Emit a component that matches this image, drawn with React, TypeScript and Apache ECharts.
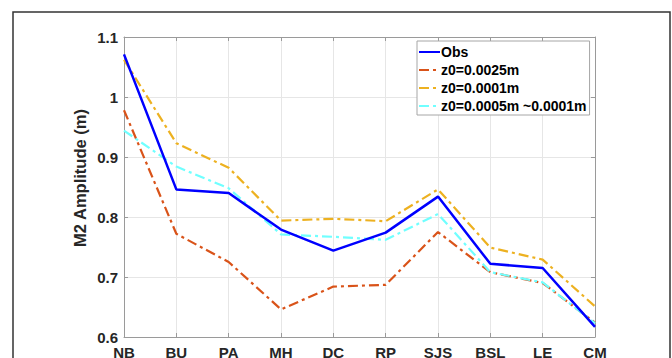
import React, { useEffect, useRef } from "react";
import * as echarts from "echarts";

// Tide gauge stations along the estuary
const stations = ["NB", "BU", "PA", "MH", "DC", "RP", "SJS", "BSL", "LE", "CM"];

// M2 amplitude (m) at each station
const obs = [1.071, 0.846, 0.84, 0.779, 0.744, 0.774, 0.834, 0.722, 0.715, 0.617];
const z0_0025 = [0.978, 0.772, 0.725, 0.646, 0.684, 0.687, 0.775, 0.708, 0.69, 0.624];
const z0_0001 = [1.062, 0.923, 0.882, 0.794, 0.797, 0.793, 0.846, 0.749, 0.729, 0.651];
const z0_0005_0001 = [0.944, 0.884, 0.848, 0.771, 0.767, 0.762, 0.805, 0.708, 0.691, 0.623];

const yMin = 0.6;
const yMax = 1.1;
const yStep = 0.1;

const FONT = "'Liberation Sans', Arial, Helvetica, sans-serif";
const DASH_DOT = [10, 4, 3, 4];

export default function App() {
  const ref = useRef<HTMLDivElement>(null);

  useEffect(() => {
    if (!ref.current) return;
    const chart = echarts.init(ref.current, null, { renderer: "svg" });

    const lineSeries = (
      name: string,
      data: number[],
      color: string,
      dashed: boolean,
      width: number
    ) => ({
      name,
      type: "line",
      data,
      symbol: "none",
      showSymbol: false,
      lineStyle: { color, width, type: dashed ? DASH_DOT : "solid" },
      itemStyle: { color },
      xAxisIndex: 0,
      yAxisIndex: 0,
    });

    const boxAxisLine = { show: true, lineStyle: { color: "#9a9a9a", width: 1 } };
    const boxAxisTick = {
      show: true,
      inside: true,
      length: 4,
      lineStyle: { color: "#9a9a9a" },
    };
    const tickLabel = {
      fontFamily: FONT,
      fontWeight: "bold",
      fontSize: 15,
      color: "#262626",
    };

    chart.setOption({
      animation: false,
      backgroundColor: "#ffffff",
      textStyle: { fontFamily: FONT },
      graphic: [
        {
          type: "rect",
          shape: { x: 13, y: 12, width: 657, height: 400 },
          style: { fill: "none", stroke: "#333333", lineWidth: 1.5 },
          silent: true,
          z: 0,
        },
        {
          type: "text",
          x: 80,
          y: 178,
          rotation: Math.PI / 2,
          style: {
            text: "M2 Amplitude (m)",
            fontFamily: FONT,
            fontWeight: "bold",
            fontSize: 16.5,
            fill: "#262626",
            align: "center",
            verticalAlign: "middle",
          },
          silent: true,
        },
      ],
      grid: {
        left: 124,
        top: 37,
        right: 77,
        bottom: 21,
        containLabel: false,
        outerBoundsMode: "none",
        show: false,
      },
      legend: {
        orient: "vertical",
        left: 417,
        top: 41,
        padding: [4, 3, 2, 1],
        itemWidth: 21,
        itemHeight: 14,
        itemGap: 4,
        backgroundColor: "#ffffff",
        borderColor: "#a6a6a6",
        borderWidth: 1,
        borderRadius: 0,
        itemStyle: { opacity: 0 },
        textStyle: {
          fontFamily: FONT,
          fontWeight: "bold",
          fontSize: 14,
          color: "#000000",
          padding: [0, 0, 0, -4],
        },
        data: ["Obs", "z0=0.0025m", "z0=0.0001m", "z0=0.0005m ~0.0001m"],
      },
      xAxis: [
        {
          type: "category",
          data: stations,
          boundaryGap: false,
          position: "bottom",
          axisLine: boxAxisLine,
          axisTick: boxAxisTick,
          axisLabel: { ...tickLabel, margin: 8 },
          splitLine: { show: true, lineStyle: { color: "#e6e6e6", width: 1 } },
        },
        {
          type: "category",
          data: stations,
          boundaryGap: false,
          position: "top",
          axisLine: boxAxisLine,
          axisTick: boxAxisTick,
          axisLabel: { show: false },
          splitLine: { show: false },
        },
      ],
      yAxis: [
        {
          type: "value",
          min: yMin,
          max: yMax,
          interval: yStep,
          position: "left",
          axisLine: boxAxisLine,
          axisTick: boxAxisTick,
          axisLabel: {
            ...tickLabel,
            margin: 6,
            formatter: (v: number) => String(Math.round(v * 10) / 10),
          },
          splitLine: { show: true, lineStyle: { color: "#e6e6e6", width: 1 } },
        },
        {
          type: "value",
          min: yMin,
          max: yMax,
          interval: yStep,
          position: "right",
          axisLine: boxAxisLine,
          axisTick: boxAxisTick,
          axisLabel: { show: false },
          splitLine: { show: false },
        },
      ],
      series: [
        lineSeries("z0=0.0025m", z0_0025, "#D95319", true, 2.2),
        lineSeries("z0=0.0001m", z0_0001, "#EDB120", true, 2.2),
        lineSeries("z0=0.0005m ~0.0001m", z0_0005_0001, "#70FFFF", true, 2.2),
        lineSeries("Obs", obs, "#0000FF", false, 2.5),
      ],
    });

    return () => chart.dispose();
  }, []);

  return (
    <div
      ref={ref}
      style={{ position: "fixed", left: 0, top: 0, width: 672, height: 358 }}
    />
  );
}
